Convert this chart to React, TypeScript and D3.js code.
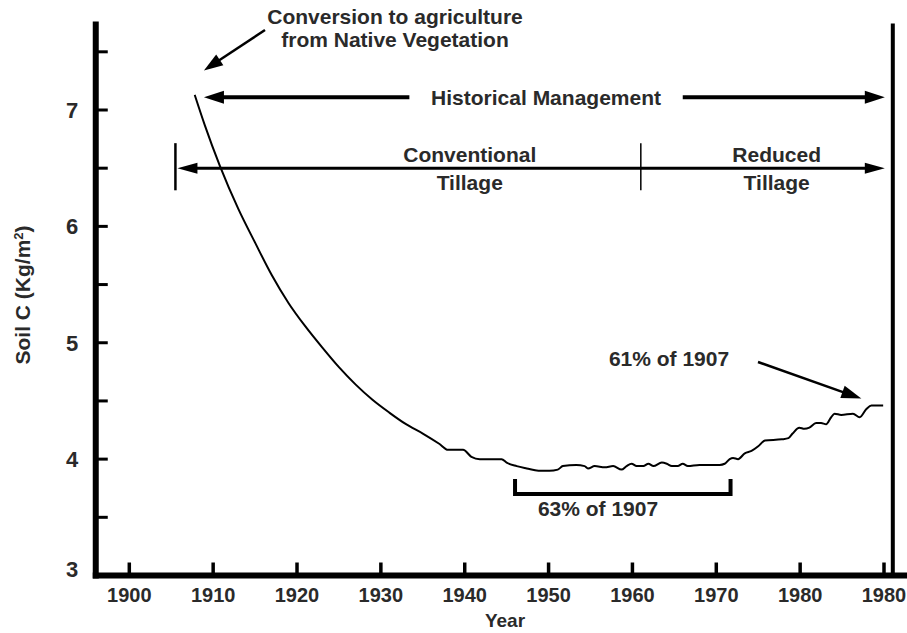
import * as d3 from "d3";

// soil carbon curve
const years = [
  1907.8, 1909.0, 1910.8, 1913.0, 1915.0, 1917.0, 1919.0, 1921.0, 1923.0, 1925.0,
  1927.0, 1929.0, 1931.0, 1933.0, 1935.0, 1937.0, 1938.0, 1939.8, 1940.8, 1941.8,
  1944.4, 1945.0, 1946.2, 1947.4, 1948.8, 1950.1, 1951.1, 1951.7, 1953.3, 1954.3,
  1954.7, 1955.5, 1956.7, 1957.7, 1958.7, 1959.3, 1959.9, 1960.5, 1961.3, 1961.9,
  1962.5, 1963.5, 1964.1, 1964.7, 1965.4, 1966.0, 1966.6, 1968.0, 1970.4, 1971.0,
  1971.6, 1972.0, 1972.6, 1973.4, 1974.2, 1975.0, 1975.8, 1977.8, 1978.6, 1979.1,
  1979.9, 1980.5, 1981.1, 1981.9, 1982.5, 1983.1, 1983.7, 1984.1, 1984.9, 1986.3,
  1987.1, 1987.9, 1988.5, 1989.9,
];
const soilC = [
  7.13, 6.87, 6.52, 6.15, 5.86, 5.58, 5.34, 5.14, 4.96, 4.79,
  4.64, 4.51, 4.4, 4.3, 4.22, 4.13, 4.08, 4.08, 4.02, 4.0,
  4.0, 3.97, 3.94, 3.92, 3.9, 3.9, 3.91, 3.94, 3.95, 3.94,
  3.92, 3.94, 3.93, 3.94, 3.91, 3.94, 3.96, 3.94, 3.94, 3.96,
  3.94, 3.97, 3.96, 3.94, 3.94, 3.96, 3.94, 3.95, 3.95, 3.96,
  4.0, 4.01, 4.0, 4.05, 4.07, 4.11, 4.16, 4.17, 4.18, 4.22,
  4.27, 4.26, 4.27, 4.31, 4.31, 4.3, 4.36, 4.39, 4.38, 4.39,
  4.36, 4.43, 4.46, 4.46,
];

const xTickYears = [1900, 1910, 1920, 1930, 1940, 1950, 1960, 1970, 1980, 1990];
const xTickLabels = ["1900", "1910", "1920", "1930", "1940", "1950", "1960", "1970", "1980", "1980"];
const yMajor = [3, 4, 5, 6, 7];
const yMinor = [3.5, 4.5, 5.5, 6.5, 7.5];

const W = 907;
const H = 633;
const FONT = "'Liberation Sans', Arial, Helvetica, sans-serif";
const TXT = "#2a2a2a";

const x = d3.scaleLinear().domain([1900, 1990]).range([129.3, 884]);
const y = d3.scaleLinear().domain([3, 7]).range([575.5, 110]);

function head(x1: number, y1: number, x2: number, y2: number, len = 19, half = 6) {
  const a = Math.atan2(y2 - y1, x2 - x1);
  const bx = x2 - len * Math.cos(a);
  const by = y2 - len * Math.sin(a);
  const px = -Math.sin(a) * half;
  const py = Math.cos(a) * half;
  return `${x2},${y2} ${bx + px},${by + py} ${bx - px},${by - py}`;
}

function Arrow({ x1, y1, x2, y2, w = 2.5, len = 19, half = 6 }: any) {
  const a = Math.atan2(y2 - y1, x2 - x1);
  return (
    <g>
      <line
        x1={x1}
        y1={y1}
        x2={x2 - (len - 2) * Math.cos(a)}
        y2={y2 - (len - 2) * Math.sin(a)}
        stroke="#000"
        strokeWidth={w}
      />
      <polygon points={head(x1, y1, x2, y2, len, half)} fill="#000" />
    </g>
  );
}

export default function App() {
  const line = d3
    .line<number>()
    .x((d, i) => x(years[i]))
    .y((d) => y(d))
    .curve(d3.curveMonotoneX);

  const axisLeft = x(1896);
  const axisRight = x(1991.05);
  const axisTop = y(7.76);
  const axisBottom = y(3);

  const histY = y(7.11);
  const tillY = y(6.5);
  const tillLeft = x(1905.5);
  const tillMid = x(1961);
  const tipX = x(1990.1);

  const brL = x(1946);
  const brR = x(1971.7);
  const brY = y(3.7);

  return (
    <svg
      width={W}
      height={H}
      style={{ position: "absolute", left: 0, top: 0, background: "#fff" }}
      fontFamily={FONT}
      fontWeight="bold"
    >
      <rect width={W} height={H} fill="#fff" />

      {/* y ticks */}
      {yMajor.concat(yMinor).map((v) => (
        <line key={"yt" + v} x1={axisLeft} x2={axisLeft + 12} y1={y(v)} y2={y(v)} stroke="#000" strokeWidth={3} />
      ))}
      {yMajor.map((v) => (
        <text key={"yl" + v} x={72} y={y(v) - (v === 3 ? 6 : 0)} dy="0.36em" textAnchor="middle" fontSize={22} fill={TXT}>
          {v}
        </text>
      ))}

      {/* x ticks */}
      {xTickYears.map((v, i) => (
        <g key={"xt" + v}>
          <line x1={x(v)} x2={x(v)} y1={axisBottom} y2={axisBottom - 13} stroke="#000" strokeWidth={3.5} />
          <text x={x(v)} y={602} textAnchor="middle" fontSize={20} fill={TXT}>
            {xTickLabels[i]}
          </text>
        </g>
      ))}

      {/* axes frame */}
      <line x1={axisLeft} x2={axisLeft} y1={axisTop} y2={axisBottom + 3} stroke="#000" strokeWidth={6} />
      <line x1={axisLeft - 3} x2={W} y1={axisBottom} y2={axisBottom} stroke="#000" strokeWidth={6} />
      <line x1={axisRight} x2={axisRight} y1={axisTop + 2} y2={axisBottom} stroke="#000" strokeWidth={4} />

      {/* axis titles */}
      <text x={505} y={627} textAnchor="middle" fontSize={19} fill={TXT}>
        Year
      </text>
      <text transform={`translate(30,${295}) rotate(-90)`} textAnchor="middle" fontSize={21} fill={TXT}>
        Soil C (Kg/m<tspan baselineShift="super" fontSize={13}>2</tspan>)
      </text>

      {/* soil C curve */}
      <path d={line(soilC) || ""} fill="none" stroke="#000" strokeWidth={2} strokeLinejoin="round" />

      {/* conversion annotation */}
      <text x={395} y={24} textAnchor="middle" fontSize={21} fill={TXT}>
        Conversion to agriculture
      </text>
      <text x={395} y={47} textAnchor="middle" fontSize={21} fill={TXT}>
        from Native Vegetation
      </text>
      <Arrow x1={265} y1={30} x2={x(1908.9)} y2={y(7.34)} w={2.5} len={19} half={6.5} />

      {/* historical management */}
      <line x1={x(1911)} x2={x(1933.4)} y1={histY} y2={histY} stroke="#000" strokeWidth={4} />
      <polygon points={head(x(1915), histY, x(1908.9), histY, 20, 6.5)} fill="#000" />
      <Arrow x1={x(1966)} y1={histY} x2={tipX} y2={histY} w={4} len={20} half={6.5} />
      <text x={x(1949.7)} y={histY} dy="0.36em" textAnchor="middle" fontSize={21} fill={TXT}>
        Historical Management
      </text>

      {/* tillage */}
      <line x1={tillLeft} x2={tillLeft} y1={y(6.715)} y2={y(6.31)} stroke="#000" strokeWidth={2.5} />
      <line x1={tillMid} x2={tillMid} y1={y(6.715)} y2={y(6.31)} stroke="#000" strokeWidth={1.5} />
      <line x1={tillLeft + 15} x2={tipX - 15} y1={tillY} y2={tillY} stroke="#000" strokeWidth={3} />
      <polygon points={head(tillLeft + 20, tillY, tillLeft + 2, tillY, 20, 5.5)} fill="#000" />
      <polygon points={head(tipX - 20, tillY, tipX, tillY, 20, 5.5)} fill="#000" />
      <text x={x(1940.6)} y={tillY - 6} textAnchor="middle" fontSize={21} fill={TXT}>
        Conventional
      </text>
      <text x={x(1940.6)} y={tillY + 22} textAnchor="middle" fontSize={21} fill={TXT}>
        Tillage
      </text>
      <text x={x(1977.2)} y={tillY - 6} textAnchor="middle" fontSize={21} fill={TXT}>
        Reduced
      </text>
      <text x={x(1977.2)} y={tillY + 22} textAnchor="middle" fontSize={21} fill={TXT}>
        Tillage
      </text>

      {/* 63% bracket */}
      <path
        d={`M${brL},${brY - 15}V${brY}H${brR}V${brY - 15}`}
        fill="none"
        stroke="#000"
        strokeWidth={4}
      />
      <text x={598} y={516} textAnchor="middle" fontSize={21} fill={TXT}>
        63% of 1907
      </text>

      {/* 61% annotation */}
      <text x={669} y={366} textAnchor="middle" fontSize={21} fill={TXT}>
        61% of 1907
      </text>
      <Arrow x1={758} y1={362} x2={x(1987.3)} y2={y(4.52)} w={2.5} len={20} half={6.5} />
    </svg>
  );
}
